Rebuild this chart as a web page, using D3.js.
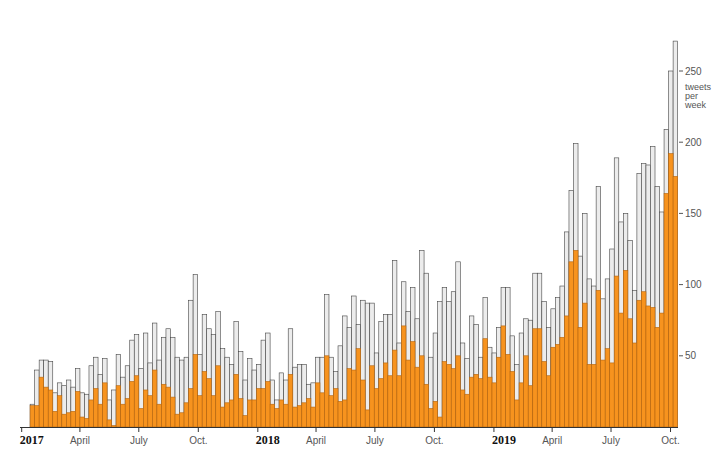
<!DOCTYPE html>
<html><head><meta charset="utf-8">
<script src="https://cdn.jsdelivr.net/npm/d3@7"></script>
<style>body{margin:0;background:#fff}</style></head>
<body><svg id="c" width="720" height="454"></svg>
<script>
const startWeek = "2017-01-14";
const totals = [16,40,47,47,46,24,31,29,33,28,41,24,23,43,49,37,48,19,26,51,35,43,61,65,41,66,45,73,47,63,69,63,49,47,49,89,107,51,79,69,65,81,55,49,44,74,53,33,48,40,44,61,66,33,19,38,33,69,42,44,44,30,31,49,49,93,49,39,57,78,70,92,72,89,87,87,52,74,79,79,117,59,102,81,98,76,124,108,49,66,88,98,88,95,116,59,48,78,72,49,91,56,52,70,98,98,64,44,66,76,75,108,108,88,70,83,91,99,137,166,199,120,150,104,99,169,90,104,125,189,144,150,131,96,178,185,184,197,169,151,209,250,271];
const orange = [15,15,35,28,26,11,22,9,10,11,25,7,6,19,27,16,31,5,1,29,16,20,32,36,13,26,22,40,16,30,28,21,9,10,17,27,51,22,39,34,22,43,14,17,19,37,20,8,19,19,27,27,32,16,13,19,16,37,14,15,17,20,14,31,24,50,22,27,18,19,41,40,55,33,12,43,27,34,45,36,54,36,71,47,60,42,50,30,13,18,7,46,44,41,50,26,23,35,37,34,62,35,31,49,71,51,39,19,31,50,29,69,69,46,36,56,58,63,78,116,124,70,87,44,44,96,47,55,45,106,80,110,76,59,89,95,85,84,70,80,164,192,176];
const xTicks = [["2017-01-01","2017",true],["2017-04-01","April",false],["2017-07-01","July",false],["2017-10-01","Oct.",false],["2018-01-01","2018",true],["2018-04-01","April",false],["2018-07-01","July",false],["2018-10-01","Oct.",false],["2019-01-01","2019",true],["2019-04-01","April",false],["2019-07-01","July",false],["2019-10-01","Oct.",false]];
const yTicks = [50,100,150,200,250];

const svg = d3.select("#c");
const p = d3.timeParse("%Y-%m-%d");
const x = d3.scaleTime().domain([p("2017-01-01"), p("2019-10-11")]).range([21.7, 677]);
const y = d3.scaleLinear().domain([0,250]).range([427,71]);
const s0 = p(startWeek);
const weeks = totals.map((t,i)=>({d:d3.timeDay.offset(s0,7*i), t, o:orange[i]}));
const bw = x(d3.timeDay.offset(s0,7)) - x(s0);

svg.append("g").selectAll("rect").data(weeks).join("rect")
  .attr("x",d=>x(d.d)).attr("width",bw).attr("y",d=>y(d.t)).attr("height",d=>y(0)-y(d.t))
  .attr("fill","#ececec").attr("stroke","#444").attr("stroke-width",0.6);
svg.append("g").selectAll("rect").data(weeks).join("rect")
  .attr("x",d=>x(d.d)).attr("width",bw).attr("y",d=>y(d.o)).attr("height",d=>y(0)-y(d.o))
  .attr("fill","#f7931e").attr("stroke","#b5650f").attr("stroke-width",0.6);

svg.append("line").attr("x1",20).attr("x2",678).attr("y1",427.5).attr("y2",427.5).attr("stroke","#333");
const xt = svg.append("g");
xTicks.forEach(([d,l,b])=>{
  const xx = x(p(d));
  xt.append("line").attr("x1",xx).attr("x2",xx).attr("y1",427).attr("y2",432).attr("stroke","#333");
  xt.append("text").attr("x",b? xx-2 : xx).attr("y",444).attr("text-anchor",b?"start":"middle")
    .attr("font-family",b?"Liberation Serif":"Liberation Sans").attr("font-weight",b?"bold":"normal")
    .attr("font-size",b?12:10).attr("fill",b?"#111":"#555").text(l);
});
const yt = svg.append("g");
yTicks.forEach(v=>{
  yt.append("line").attr("x1",679).attr("x2",683).attr("y1",y(v)).attr("y2",y(v)).attr("stroke","#555");
  yt.append("text").attr("x",685).attr("y",y(v)+3.5).attr("font-family","Liberation Sans").attr("font-size",10).attr("fill","#555").text(v);
});
["tweets","per","week"].forEach((t,i)=>svg.append("text").attr("x",685).attr("y",90+i*9)
  .attr("font-family","Liberation Sans").attr("font-size",9).attr("fill","#555").text(t));
</script></body></html>
